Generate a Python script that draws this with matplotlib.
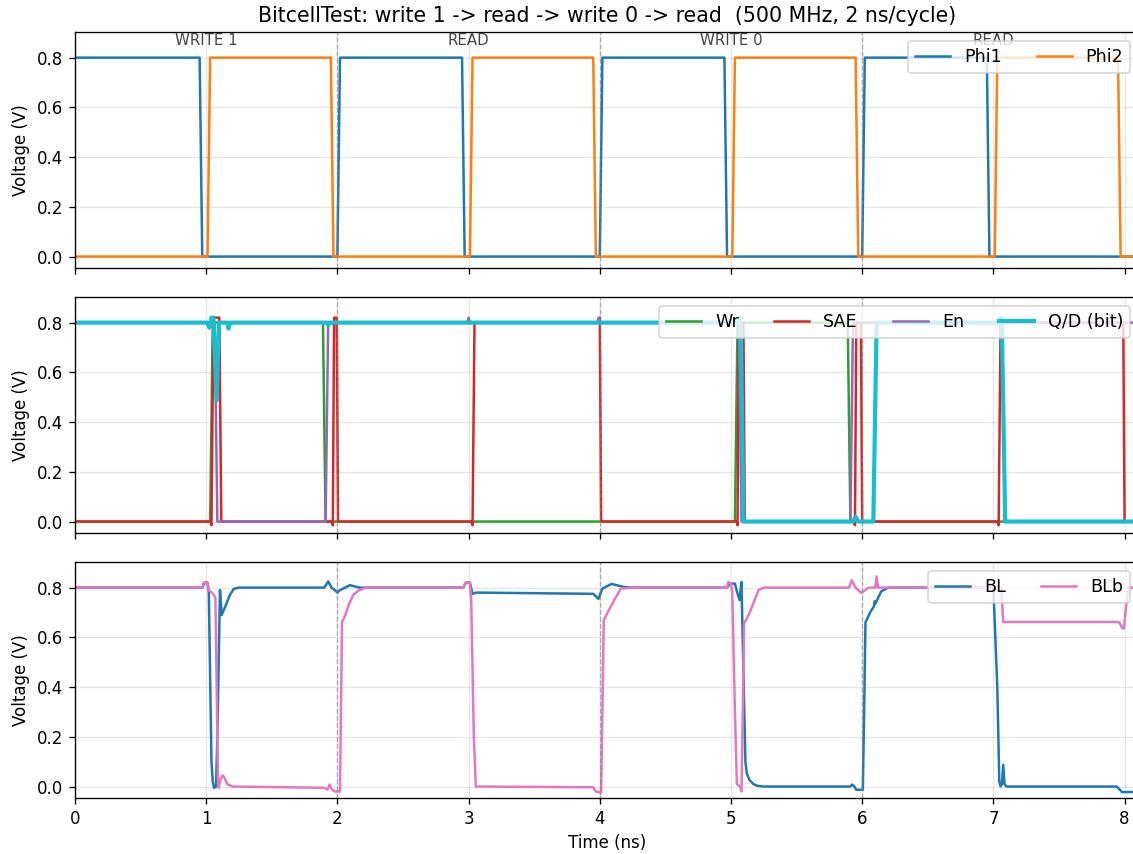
import matplotlib
matplotlib.use('Agg')
import matplotlib.pyplot as plt

# Clock phases (time in ns, voltage in V)
phi1_t = [0, 0.95, 0.97, 2.00, 2.02, 2.95, 2.97, 4.00, 4.02, 4.95, 4.97, 6.00, 6.02, 6.95, 6.97, 8.11]
phi1_v = [0.8, 0.8, 0.0, 0.0, 0.8, 0.8, 0.0, 0.0, 0.8, 0.8, 0.0, 0.0, 0.8, 0.8, 0.0, 0.0]
phi2_t = [0, 1.01, 1.03, 1.95, 1.97, 3.01, 3.03, 3.95, 3.97, 5.01, 5.03, 5.95, 5.97, 7.01, 7.03, 7.95, 7.97, 8.11]
phi2_v = [0.0, 0.0, 0.8, 0.8, 0.0, 0.0, 0.8, 0.8, 0.0, 0.0, 0.8, 0.8, 0.0, 0.0, 0.8, 0.8, 0.0, 0.0]

# Control signals
wr_t = [0, 1.03, 1.05, 1.15, 1.17, 1.19, 1.89, 1.91, 5.03, 5.05, 5.89, 5.91, 8.11]
wr_v = [0.0, 0.0, 0.8, 0.8, 0.78, 0.8, 0.8, 0.0, 0.0, 0.8, 0.8, 0.0, 0.0]

sae_t = [0, 1.03, 1.04, 1.055, 1.10, 1.115, 1.96, 1.965, 1.975, 1.995, 2.005, 3.02, 3.03, 3.045,
         3.99, 4.0, 4.01, 5.045, 5.05, 5.06, 5.095, 5.105, 5.94, 5.945, 5.955, 5.99, 6.0,
         7.03, 7.04, 7.055, 7.99, 8.0, 8.11]
sae_v = [0.0, 0.0, -0.015, 0.82, 0.82, 0.0, 0.0, -0.015, 0.82, 0.82, 0.0, 0.0, -0.015, 0.8,
         0.8, 0.82, 0.0, 0.0, -0.015, 0.8, 0.8, 0.0, 0.0, -0.015, 0.8, 0.8, 0.0,
         0.0, -0.015, 0.8, 0.8, 0.0, 0.0]

en_t = [0, 1.0, 1.02, 1.04, 1.065, 1.085, 1.91, 1.93, 2.99, 3.0, 3.01, 3.98, 3.99, 4.0,
        5.06, 5.08, 5.91, 5.93, 8.11]
en_v = [0.8, 0.8, 0.78, 0.8, 0.8, 0.0, 0.0, 0.8, 0.8, 0.82, 0.8, 0.8, 0.82, 0.8,
        0.8, 0.0, 0.0, 0.8, 0.8]

qd_t = [0, 1.01, 1.025, 1.04, 1.055, 1.08, 1.097, 1.16, 1.17, 1.18, 1.92, 1.93, 1.94,
        5.06, 5.07, 5.075, 5.095, 5.93, 5.95, 5.97, 6.085, 6.11, 7.05, 7.06, 7.065, 7.09, 8.11]
qd_v = [0.8, 0.8, 0.78, 0.82, 0.82, 0.487, 0.8, 0.8, 0.776, 0.8, 0.8, 0.79, 0.8,
        0.8, 0.82, 0.8, 0.0, 0.0, 0.02, 0.0, 0.0, 0.8, 0.8, 0.82, 0.8, 0.0, 0.0]

# Bitlines
bl_t = [0, 0.97, 0.99, 1.01, 1.02, 1.04, 1.05, 1.06, 1.075, 1.085, 1.095, 1.105, 1.118,
        1.15, 1.18, 1.21, 1.25, 1.90, 1.93, 1.955, 1.98, 2.0, 2.02, 2.06, 2.095, 2.13, 2.17,
        2.96, 2.98, 3.01, 3.03, 3.06, 3.95, 3.99, 4.02, 4.09, 4.18, 4.25,
        4.97, 4.99, 5.03, 5.05, 5.065, 5.08, 5.095, 5.11, 5.12, 5.14, 5.17, 5.2, 5.25,
        5.91, 5.925, 5.94, 5.955, 6.005, 6.015, 6.025, 6.06, 6.09, 6.095, 6.1, 6.145, 6.2,
        7.0, 7.03, 7.045, 7.055, 7.065, 7.075, 7.085, 7.1, 7.94, 7.98, 8.11]
bl_v = [0.8, 0.8, 0.82, 0.82, 0.78, 0.1, 0.02, -0.005, 0.0, 0.2, 0.5, 0.79, 0.69,
        0.73, 0.77, 0.795, 0.8, 0.8, 0.825, 0.8, 0.79, 0.78, 0.79, 0.8, 0.81, 0.805, 0.8,
        0.8, 0.82, 0.82, 0.775, 0.78, 0.775, 0.755, 0.796, 0.815, 0.803, 0.8,
        0.8, 0.816, 0.816, 0.776, 0.75, 0.823, 0.45, 0.1, 0.054, 0.027, 0.01, 0.003, 0.0,
        0.0, 0.008, 0.0, -0.013, -0.013, 0.3, 0.66, 0.7, 0.725, 0.745, 0.735, 0.785, 0.8,
        0.8, 0.4, 0.02, 0.0, 0.01, 0.087, 0.01, 0.0, 0.0, -0.022, -0.022]

blb_t = [0, 0.97, 0.98, 1.01, 1.02, 1.045, 1.07, 1.08, 1.09, 1.095, 1.11, 1.125, 1.14, 1.16, 1.2,
         1.9, 1.925, 1.94, 1.955, 1.98, 2.02, 2.035, 2.06, 2.09, 2.12, 2.16, 2.22,
         2.96, 2.975, 3.01, 3.02, 3.04, 3.055, 3.95, 3.97, 4.01, 4.02, 4.03, 4.06, 4.11, 4.16, 4.25,
         4.97, 4.98, 5.0, 5.01, 5.03, 5.045, 5.07, 5.08, 5.09, 5.1, 5.14, 5.18, 5.21, 5.25,
         5.9, 5.92, 5.95, 5.99, 6.01, 6.05, 6.1, 6.11, 6.12, 7.06, 7.075, 7.94, 7.96, 7.985,
         7.995, 8.01, 8.03, 8.11]
blb_v = [0.8, 0.8, 0.82, 0.82, 0.79, 0.78, 0.76, 0.4, 0.01, -0.005, 0.03, 0.045, 0.035, 0.01, 0.0,
         -0.005, -0.012, 0.008, -0.01, -0.02, -0.02, 0.66, 0.69, 0.735, 0.77, 0.788, 0.8,
         0.8, 0.82, 0.82, 0.75, 0.2, 0.0, -0.003, -0.02, -0.025, 0.3, 0.669, 0.7, 0.75, 0.796, 0.8,
         0.8, 0.823, 0.816, 0.78, 0.3, 0.01, 0.0, -0.02, 0.3, 0.656, 0.696, 0.75, 0.79, 0.8,
         0.8, 0.83, 0.8, 0.78, 0.785, 0.8, 0.8, 0.845, 0.8, 0.8, 0.662, 0.662, 0.66, 0.636,
         0.636, 0.72, 0.8, 0.8]

phase_names = ['WRITE 1', 'READ', 'WRITE 0', 'READ']
phase_centers = [1, 3, 5, 7]
cycle_edges = [2, 4, 6]

fig, axes = plt.subplots(3, 1, figsize=(1133 / 120, 854 / 120), dpi=120, sharex=True)
fig.subplots_adjust(left=0.0662, right=1.0053, top=0.9625, bottom=0.0656, hspace=0.123)

ax = axes[0]
ax.plot(phi1_t, phi1_v, color='tab:blue', label='Phi1')
ax.plot(phi2_t, phi2_v, color='tab:orange', label='Phi2')
ax.set_title('BitcellTest: write 1 -> read -> write 0 -> read  (500 MHz, 2 ns/cycle)', fontsize=12.3)
for name, c in zip(phase_names, phase_centers):
    ax.text(c, 0.9, name, ha='center', va='top', fontsize=9, color='#444444')
ax.legend(loc='upper right', ncol=2, fontsize=10.5)

ax = axes[1]
ax.plot(wr_t, wr_v, color='tab:green', label='Wr')
ax.plot(sae_t, sae_v, color='tab:red', label='SAE')
ax.plot(en_t, en_v, color='tab:purple', label='En')
ax.plot(qd_t, qd_v, color='tab:cyan', lw=2.5, label='Q/D (bit)')
ax.legend(loc='upper right', ncol=4, fontsize=10.5)

ax = axes[2]
ax.plot(bl_t, bl_v, color='tab:blue', label='BL')
ax.plot(blb_t, blb_v, color='tab:pink', label='BLb')
ax.legend(loc='upper right', ncol=2, fontsize=10.5)
ax.set_xlabel('Time (ns)')

for ax in axes:
    for e in cycle_edges:
        ax.axvline(e, color='gray', ls='--', lw=0.8, alpha=0.6)
    ax.set_ylabel('Voltage (V)')
    ax.grid(True, alpha=0.3)
    ax.set_ylim(-0.046, 0.903)
    ax.set_xlim(0, 8.11)

fig.savefig('out.png', dpi=120)
